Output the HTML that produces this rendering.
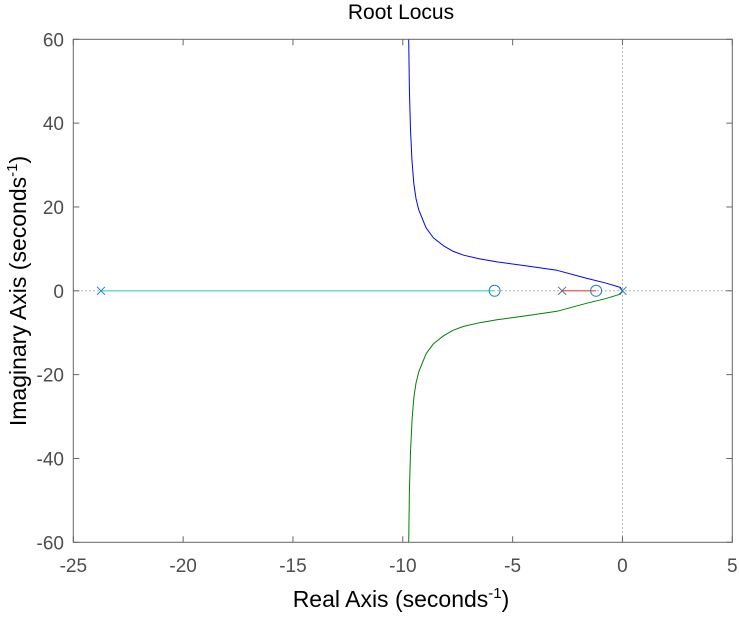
<!DOCTYPE html>
<html><head><meta charset="utf-8"><style>
body{margin:0;background:#fff;}
svg text{font-family:"Liberation Sans",Arial,sans-serif;}
</style></head><body>
<svg width="739" height="613" xmlns="http://www.w3.org/2000/svg">
<rect width="739" height="613" fill="#fff"/>
<g id="plot"></g>
</svg>
<script>
const xTicks=[-25,-20,-15,-10,-5,0,5];
const yTicks=[-60,-40,-20,0,20,40,60];
const branchUpperRe=[-9.73,-9.7,-9.65,-9.58,-9.5,-9.4,-9.27,-8.94,-8.6,-8.14,-7.7,-7.23,-6.5,-5.71,-4.3,-2.98,-1.62,-0.8,-0.1,0];
const branchUpperIm=[60,48,38.4,31,25.6,22,19.3,15.0,12.6,10.7,9.4,8.5,7.6,6.9,5.9,4.9,2.95,1.9,0.8,0];
const branchLowerRe=[-9.73,-9.7,-9.65,-9.58,-9.5,-9.4,-9.27,-8.94,-8.6,-8.14,-7.7,-7.23,-6.5,-5.71,-4.3,-2.98,-1.62,-0.8,-0.1,0];
const branchLowerIm=[-60,-48,-38.4,-31,-25.6,-22,-19.3,-15.0,-12.6,-10.7,-9.4,-8.5,-7.6,-6.9,-5.9,-4.9,-2.95,-1.9,-0.8,0];
const poles=[-23.74,-2.75,0];
const zeros=[-5.82,-1.2];
const cyanSeg=[-23.74,-5.82];
const redSeg=[-2.75,-1.2];

const L=73.3,R=732.3,T=39.3,B=542.3;
const sx=v=>L+(v+25)/30*(R-L);
const sy=v=>B-(v+60)/120*(B-T);
const g=document.getElementById('plot');
const NS='http://www.w3.org/2000/svg';
function mk(tag,attrs,parent){const e=document.createElementNS(NS,tag);for(const k in attrs)e.setAttribute(k,attrs[k]);(parent||g).appendChild(e);return e;}

let e=mk('line',{x1:sx(0),x2:sx(0),y1:T,y2:B,stroke:'#999',"stroke-dasharray":'1.5,2.5'});


e=mk('line',{x1:L,x2:R,y1:sy(0),y2:sy(0),stroke:'#999',"stroke-dasharray":'1.5,2.5'});



e=mk('line',{x1:sx(cyanSeg[0]),x2:sx(cyanSeg[1]),y1:sy(0),y2:sy(0),stroke:'#6fd8d8','stroke-width':1.5});


e=mk('line',{x1:sx(redSeg[0]),x2:sx(redSeg[1]),y1:sy(0),y2:sy(0),stroke:'#f07070','stroke-width':1.5});



function poly(re,im,col,name){
 const pts=re.map((r,i)=>sx(r).toFixed(1)+','+sy(im[i]).toFixed(1)).join(' ');
 const p=mk('polyline',{points:pts,fill:'none',stroke:col,'stroke-width':1,'stroke-linejoin':'round'});
 
 
}
poly(branchUpperRe,branchUpperIm,'#0000ff','upper-branch');
poly(branchLowerRe,branchLowerIm,'#008000','lower-branch');

poles.forEach((p,i)=>{
 const x=sx(p),y=sy(0),s=4;
 const gg=mk('g',{stroke:i==1?'#4a6a8a':'#1f7fc8','stroke-width':1});
 
 
 mk('line',{x1:x-s,y1:y-s,x2:x+s,y2:y+s},gg);
 mk('line',{x1:x-s,y1:y+s,x2:x+s,y2:y-s},gg);
});
zeros.forEach(z=>{
 const c=mk('circle',{cx:sx(z),cy:sy(0),r:5.5,fill:'none',stroke:'#1f7fc8','stroke-width':1});
 
 
});

e=mk('rect',{x:L,y:T,width:R-L,height:B-T,fill:'none',stroke:'#666','stroke-width':1});



xTicks.forEach(t=>{
 const x=sx(t);
 mk('line',{x1:x,x2:x,y1:B,y2:B-6,stroke:'#666'});
 mk('line',{x1:x,x2:x,y1:T,y2:T+6,stroke:'#666'});
 const tx=mk('text',{x:x,y:572,'text-anchor':'middle','font-size':19,fill:'#4d4d4d'});
 tx.textContent=t;
 
 
});
yTicks.forEach(t=>{
 const y=sy(t);
 mk('line',{x1:L,x2:L+6,y1:y,y2:y,stroke:'#666'});
 mk('line',{x1:R,x2:R-6,y1:y,y2:y,stroke:'#666'});
 const tx=mk('text',{x:64,y:y+7,'text-anchor':'end','font-size':19,fill:'#4d4d4d'});
 tx.textContent=t;
 
 
});
</script>
<svg width="739" height="613" style="position:absolute;left:0;top:0" xmlns="http://www.w3.org/2000/svg">
<text x="401" y="19" text-anchor="middle" font-size="21" fill="#000">Root Locus</text>
<text x="401" y="607" text-anchor="middle" font-size="23" fill="#000">Real Axis (seconds<tspan dy="-9" font-size="15">-1</tspan><tspan dy="9">)</tspan></text>
<text transform="translate(26,291) rotate(-90)" text-anchor="middle" font-size="23" fill="#000">Imaginary Axis (seconds<tspan dy="-9" font-size="15">-1</tspan><tspan dy="9">)</tspan></text>
</svg>
</body></html>
